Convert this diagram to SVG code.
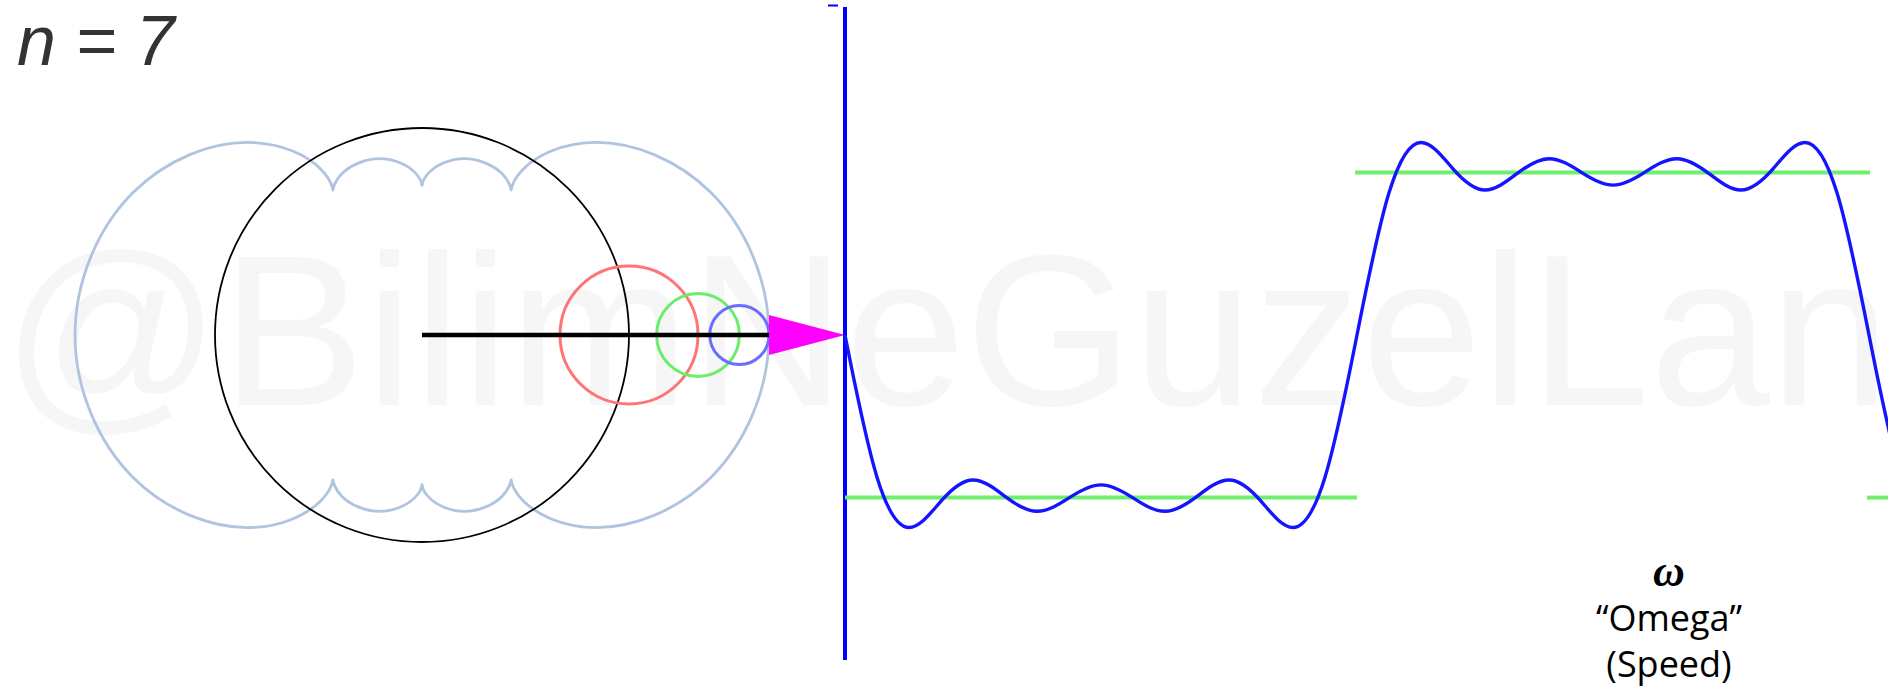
<svg xmlns="http://www.w3.org/2000/svg" xmlns:xlink="http://www.w3.org/1999/xlink" width="1888" height="686" viewBox="0 0 1888 686">
<style>
.wm{font-family:"Liberation Sans",Arial,sans-serif;font-size:216px;fill:#f6f6f6}
.trace{fill:none;stroke:#b0c3df;stroke-width:2.8;stroke-linejoin:round;stroke-linecap:round}
.epi{fill:none;stroke-width:3}
.lbl{font-family:"Open Sans","Noto Sans",sans-serif;font-size:36px;fill:#000;text-anchor:middle}
.sq{stroke:#6ef06e;stroke-width:4;fill:none}
</style>
<defs>
<path id="q" class="trace" d="M768.97,335 C768.97,280.81 745.88,227.58 711.16,192.86 C676.44,158.14 631.88,142.47 596.48,142.47 C561.08,142.47 535.81,156.64 523.62,168.83 C511.43,181.02 511.22,190.02 511.22,190.02 C511.22,190.02 510.14,181.75 501.99,173.60 C493.84,165.45 479.06,158.69 464.40,158.69 C449.74,158.69 436.38,165.21 429.47,172.12 C422.56,179.03 422,185.17 422,185.17"/>
</defs>
<rect width="1888" height="686" fill="#fff"/>
<text class="wm" x="2" y="405">@BilimNeGuzelLan</text>
<g id="title"><text x="17" y="65" font-family="Liberation Sans,Arial,sans-serif" font-style="italic" font-size="70" fill="#333">n = 7</text></g>
<g id="trace">
<use xlink:href="#q"/>
<use xlink:href="#q" transform="translate(844,0) scale(-1,1)"/>
<use xlink:href="#q" transform="translate(0,670) scale(1,-1)"/>
<use xlink:href="#q" transform="rotate(180 422 335)"/>
</g>
<g id="epicycles">
<circle cx="422" cy="335" r="207" fill="none" stroke="#000" stroke-width="1.8"/>
<circle class="epi" cx="629" cy="335" r="69" stroke="#ff7474"/>
<circle class="epi" cx="698" cy="335" r="41.4" stroke="#6aee6a"/>
<circle class="epi" cx="739.4" cy="335" r="29.6" stroke="#6c6cff"/>
<line x1="422" y1="335" x2="769" y2="335" stroke="#000" stroke-width="4.5"/>
</g>
<g id="pointer"><polygon points="769,315 769,355 845,335" fill="#ff00ff"/></g>
<g id="connectors">
<line x1="828" y1="5.5" x2="838" y2="5.5" stroke="#0000ff" stroke-width="2"/>
<line x1="845" y1="7" x2="845" y2="660" stroke="#0000ff" stroke-width="4"/>
</g>
<g id="square">
<line class="sq" x1="845" y1="497.6" x2="1357" y2="497.6"/>
<line class="sq" x1="1355" y1="172.4" x2="1870" y2="172.4"/>
<line class="sq" x1="1867" y1="497.6" x2="1888" y2="497.6"/>
</g>
<g id="wave">
<path fill="none" stroke="#1414ff" stroke-width="3.4" d="M845,335 C855.67,389.19 866.33,442.42 877,477.14 C887.67,511.86 898.33,527.53 909,527.53 C919.67,527.53 930.33,513.36 941,501.17 C951.67,488.98 962.33,479.98 973,479.98 C983.67,479.98 994.33,488.25 1005,496.40 C1015.67,504.55 1026.33,511.31 1037,511.31 C1047.67,511.31 1058.33,504.79 1069,497.88 C1079.67,490.97 1090.33,484.83 1101,484.83 C1111.67,484.83 1122.33,490.97 1133,497.88 C1143.67,504.79 1154.33,511.31 1165,511.31 C1175.67,511.31 1186.33,504.55 1197,496.40 C1207.67,488.25 1218.33,479.98 1229,479.98 C1239.67,479.98 1250.33,488.98 1261,501.17 C1271.67,513.36 1282.33,527.53 1293,527.53 C1303.67,527.53 1314.33,511.86 1325,477.14 C1335.67,442.42 1346.33,389.19 1357,335 C1367.67,280.81 1378.33,227.58 1389,192.86 C1399.67,158.14 1410.33,142.47 1421,142.47 C1431.67,142.47 1442.33,156.64 1453,168.83 C1463.67,181.02 1474.33,190.02 1485,190.02 C1495.67,190.02 1506.33,181.75 1517,173.60 C1527.67,165.45 1538.33,158.69 1549,158.69 C1559.67,158.69 1570.33,165.21 1581,172.12 C1591.67,179.03 1602.33,185.17 1613,185.17 C1623.67,185.17 1634.33,179.03 1645,172.12 C1655.67,165.21 1666.33,158.69 1677,158.69 C1687.67,158.69 1698.33,165.45 1709,173.60 C1719.67,181.75 1730.33,190.02 1741,190.02 C1751.67,190.02 1762.33,181.02 1773,168.83 C1783.67,156.64 1794.33,142.47 1805,142.47 C1815.67,142.47 1826.33,158.14 1837,192.86 C1847.67,227.58 1858.33,280.81 1869,335 C1879.67,389.19 1890.33,442.42 1901,477.14"/>
</g>
<g id="omega-label">
<text x="1669" y="586" font-family="Liberation Serif,serif" font-style="italic" font-weight="bold" font-size="44" text-anchor="middle">ω</text>
<text class="lbl" x="1669" y="631">“Omega”</text>
<text class="lbl" x="1669" y="677">(Speed)</text>
</g>
</svg>
